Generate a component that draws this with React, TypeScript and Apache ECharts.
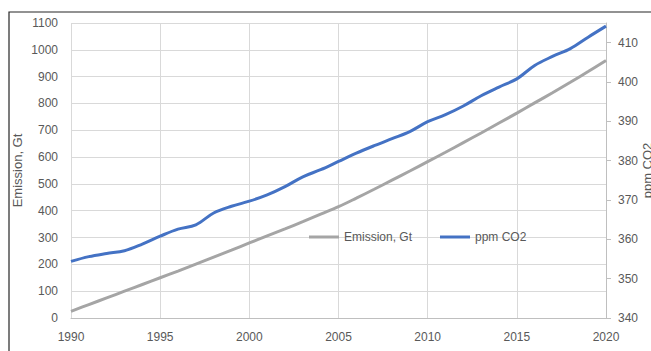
import React, { useEffect, useRef } from "react";
import * as echarts from "echarts";

const years = [
  1990, 1991, 1992, 1993, 1994, 1995, 1996, 1997, 1998, 1999, 2000, 2001, 2002, 2003, 2004, 2005,
  2006, 2007, 2008, 2009, 2010, 2011, 2012, 2013, 2014, 2015, 2016, 2017, 2018, 2019, 2020,
];
const emission = [
  25, 50, 75, 100, 125, 150, 175, 201, 227, 253, 280, 306, 332, 359, 387, 415,
  447, 480, 514, 548, 583, 618, 654, 690, 727, 764, 802, 840, 879, 919, 960,
];
const ppmCO2 = [
  354.4, 355.6, 356.4, 357.1, 358.8, 360.8, 362.6, 363.7, 366.7, 368.4, 369.7, 371.3, 373.4, 375.9, 377.7, 379.8,
  381.9, 383.8, 385.6, 387.4, 389.9, 391.7, 393.9, 396.5, 398.7, 400.8, 404.2, 406.5, 408.5, 411.4, 414.2,
];
const rightTicks = [340, 350, 360, 370, 380, 390, 400, 410];

const FONT = "Liberation Sans";
const LABEL = "#595959";
const plain = (v: number) => String(v);

export default function App() {
  const ref = useRef<HTMLDivElement>(null);
  useEffect(() => {
    if (!ref.current) return;
    const chart = echarts.init(ref.current, undefined, { renderer: "svg" });
    chart.setOption({
      animation: false,
      backgroundColor: "#ffffff",
      textStyle: { fontFamily: FONT },
      grid: { left: 71, right: 45, top: 23, bottom: 33, containLabel: false, outerBoundsMode: "none" },
      graphic: [
        {
          type: "rect",
          z: -1,
          shape: { x: 9, y: 12, width: 800, height: 500 },
          style: { fill: "none", stroke: "#262626", lineWidth: 1.2 },
          silent: true,
        },
      ],
      legend: {
        left: 309,
        top: 231,
        padding: 0,
        icon: "rect",
        itemWidth: 30,
        itemHeight: 3,
        itemGap: 28,
        textStyle: { color: LABEL, fontSize: 12, fontFamily: FONT },
        data: ["Emission, Gt", "ppm CO2"],
      },
      xAxis: {
        type: "value",
        min: 1990,
        max: 2020,
        interval: 5,
        axisLine: { show: true, lineStyle: { color: "#bfbfbf", width: 1 } },
        axisTick: { show: false },
        axisLabel: { color: LABEL, fontSize: 12, margin: 13, fontFamily: FONT, formatter: plain },
        splitLine: { show: true, lineStyle: { color: "#d9d9d9", width: 1 } },
      },
      yAxis: [
        {
          type: "value",
          min: 0,
          max: 1100,
          interval: 100,
          name: "Emission, Gt",
          nameLocation: "middle",
          nameGap: 47,
          nameRotate: 90,
          nameMoveOverlap: false,
          nameTextStyle: { color: LABEL, fontSize: 13, fontFamily: FONT },
          axisLine: { show: false },
          axisTick: { show: false },
          axisLabel: { color: LABEL, fontSize: 12, margin: 13, fontFamily: FONT, formatter: plain },
          splitLine: { show: true, lineStyle: { color: "#d9d9d9", width: 1 } },
        },
        {
          type: "value",
          position: "right",
          min: 340,
          max: 415,
          interval: 10,
          name: "ppm CO2",
          nameLocation: "middle",
          nameGap: 35,
          nameRotate: 90,
          nameMoveOverlap: false,
          nameTextStyle: { color: LABEL, fontSize: 13, fontFamily: FONT },
          axisLine: { show: true, lineStyle: { color: "#bfbfbf", width: 1 } },
          axisTick: { show: true, length: 5, lineStyle: { color: "#bfbfbf" }, customValues: rightTicks },
          axisLabel: { color: LABEL, fontSize: 12, margin: 12, fontFamily: FONT, customValues: rightTicks, formatter: plain },
          splitLine: { show: false },
        },
      ],
      series: [
        {
          name: "Emission, Gt",
          type: "line",
          yAxisIndex: 0,
          data: years.map((y, i) => [y, emission[i]]),
          symbol: "none",
          smooth: 0.35,
          color: "#A5A5A5",
          lineStyle: { color: "#A5A5A5", width: 3 },
        },
        {
          name: "ppm CO2",
          type: "line",
          yAxisIndex: 1,
          data: years.map((y, i) => [y, ppmCO2[i]]),
          symbol: "none",
          smooth: 0.35,
          color: "#4472C4",
          lineStyle: { color: "#4472C4", width: 3 },
        },
      ],
    });
    return () => chart.dispose();
  }, []);
  return (
    <div
      ref={ref}
      style={{ position: "absolute", left: 0, top: 0, width: 651, height: 351 }}
    />
  );
}
